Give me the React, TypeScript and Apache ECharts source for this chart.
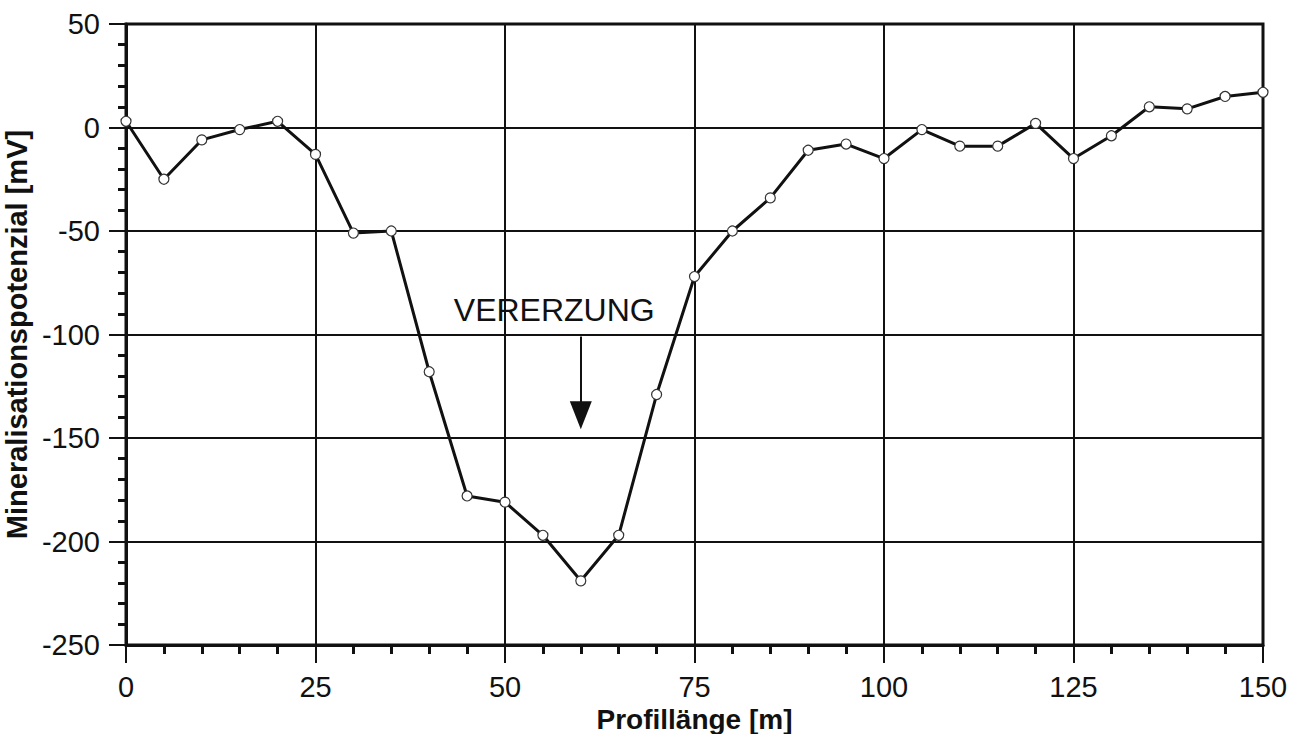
import React, { useEffect, useRef } from "react";
import * as echarts from "echarts";

const profileX = [0, 5, 10, 15, 20, 25, 30, 35, 40, 45, 50, 55, 60, 65, 70, 75, 80, 85, 90, 95, 100, 105, 110, 115, 120, 125, 130, 135, 140, 145, 150];
const potential = [3, -25, -6, -1, 3, -13, -51, -50, -118, -178, -181, -197, -219, -197, -129, -72, -50, -34, -11, -8, -15, -1, -9, -9, 2, -15, -4, 10, 9, 15, 17];
const xTicks = [0, 25, 50, 75, 100, 125, 150];
const yTicks = [-250, -200, -150, -100, -50, 0, 50];
const annotationText = "VERERZUNG";
const annotationAt = [56.5, -88];
const arrowFrom = [60, -101];
const arrowTo = [60, -139];

const FONT = "'Liberation Sans', Arial, sans-serif";
const INK = "#111";

export default function App() {
  const ref = useRef<HTMLDivElement>(null);
  useEffect(() => {
    if (!ref.current) return;
    const chart = echarts.init(ref.current, undefined, { renderer: "svg" });
    chart.setOption({
      animation: false,
      backgroundColor: "#fff",
      grid: {
        left: 126, right: 38, top: 24, bottom: 89,
        containLabel: false, outerBoundsMode: "none",
        show: true, borderColor: INK, borderWidth: 3, backgroundColor: "transparent",
      },
      xAxis: {
        type: "value",
        min: xTicks[0], max: xTicks[xTicks.length - 1], interval: 25,
        name: "Profillänge [m]", nameLocation: "middle", nameGap: 50,
        nameTextStyle: { fontFamily: FONT, fontSize: 28, fontWeight: "bold", color: INK },
        axisLine: { show: true, onZero: false, lineStyle: { color: INK, width: 3 } },
        axisTick: { show: true, inside: false, length: 18, lineStyle: { color: INK, width: 2 } },
        minorTick: { show: true, splitNumber: 5, length: 9, lineStyle: { color: INK, width: 3 } },
        axisLabel: { fontFamily: FONT, fontSize: 29, color: INK, margin: 27 },
        splitLine: { show: true, lineStyle: { color: INK, width: 2 } },
      },
      yAxis: {
        type: "value",
        min: yTicks[0], max: yTicks[yTicks.length - 1], interval: 50,
        name: "Mineralisationspotenzial [mV]", nameLocation: "middle", nameGap: 84, nameRotate: 90,
        nameTextStyle: { fontFamily: FONT, fontSize: 29, fontWeight: "bold", color: INK },
        axisLine: { show: true, onZero: false, lineStyle: { color: INK, width: 3 } },
        axisTick: { show: true, inside: false, length: 17, lineStyle: { color: INK, width: 2 } },
        minorTick: { show: true, splitNumber: 5, length: 8, lineStyle: { color: INK, width: 3 } },
        axisLabel: { fontFamily: FONT, fontSize: 29, color: INK, margin: 26 },
        splitLine: { show: true, lineStyle: { color: INK, width: 2 } },
      },
      series: [
        {
          type: "line",
          data: profileX.map((x, i) => [x, potential[i]]),
          symbol: "circle",
          symbolSize: 10,
          showSymbol: true,
          lineStyle: { color: INK, width: 3 },
          itemStyle: { color: "#fff", borderColor: "#333", borderWidth: 1.2 },
          z: 5,
          markPoint: {
            silent: true,
            symbol: "circle",
            symbolSize: 0,
            itemStyle: { color: "transparent" },
            label: {
              show: true, position: "inside", formatter: annotationText,
              fontFamily: FONT, fontSize: 32, color: INK,
            },
            data: [{ coord: annotationAt }],
          },
          markLine: {
            silent: true,
            symbol: ["none", "triangle"],
            symbolSize: [22, 28],
            label: { show: false },
            lineStyle: { color: INK, width: 2, type: "solid" },
            data: [[{ coord: arrowFrom }, { coord: arrowTo }]],
          },
        },
      ],
    });
    return () => chart.dispose();
  }, []);
  return (
    <div
      ref={ref}
      style={{ position: "fixed", left: 0, top: 0, width: 1301, height: 734, background: "#fff" }}
    />
  );
}
